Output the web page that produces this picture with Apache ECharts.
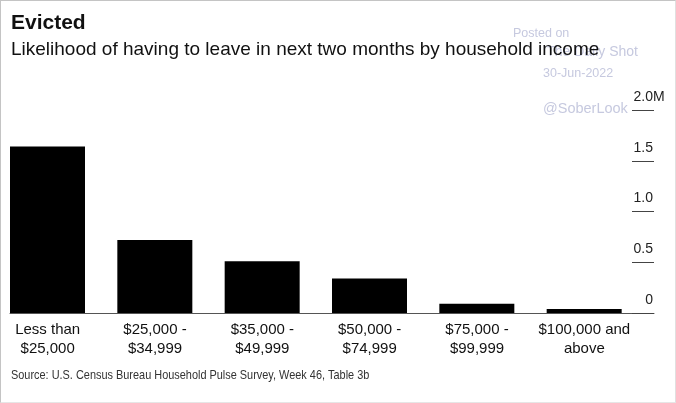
<!DOCTYPE html>
<html>
<head>
<meta charset="utf-8">
<script src="https://cdn.jsdelivr.net/npm/echarts@6/dist/echarts.min.js"></script>
<style>
  html, body { margin: 0; padding: 0; background: #fff; }
  #chart { width: 676px; height: 403px; position: absolute; left: 0; top: 0; }
  #frame { position: absolute; left: 0; top: 0; width: 676px; height: 403px; box-sizing: border-box;
           border: 1px solid #c4c4c4; border-right-color: #e0e0e0; border-bottom-color: #e6e6e6; pointer-events: none; }
</style>
</head>
<body>
<div id="chart"></div>
<div id="frame"></div>
<script>
// ---- data ----
const categories = ['Less than\n$25,000', '$25,000 -\n$34,999', '$35,000 -\n$49,999', '$50,000 -\n$74,999', '$75,000 -\n$99,999', '$100,000 and\nabove'];
const evicted = [1.64, 0.72, 0.51, 0.34, 0.092, 0.04]; // millions of households
const yMin = 0, yMax = 2.0, yStep = 0.5;
const titleText = 'Evicted';
const subtitleText = 'Likelihood of having to leave in next two months by household income';
const sourceText = 'Source: U.S. Census Bureau Household Pulse Survey, Week 46, Table 3b';

const FONT = 'Liberation Sans, Arial, Helvetica, sans-serif';
const WM = '#c6c9df';

const chart = echarts.init(document.getElementById('chart'), null, { renderer: 'canvas' });
chart.setOption({
  backgroundColor: '#ffffff',
  animation: false,
  textStyle: { fontFamily: FONT },
  title: [
    { text: titleText, left: 11, top: 13, textStyle: { fontSize: 21, fontWeight: 'bold', color: '#111', fontFamily: FONT }, padding: 0, z: 10 },
    { text: subtitleText, left: 11, top: 40, textStyle: { fontSize: 19, fontWeight: 'normal', color: '#111', fontFamily: FONT }, padding: 0, z: 10 }
  ],
  graphic: [
    { type: 'text', z: 0, zlevel: 0, left: 513, top: 27, style: { text: 'Posted on', fontSize: 12.5, fill: WM, fontFamily: FONT } },
    { type: 'text', z: 0, zlevel: 0, right: 676 - 638, top: 45, style: { text: 'The Daily Shot', fontSize: 14, fill: WM, fontFamily: FONT } },
    { type: 'text', z: 0, zlevel: 0, left: 543, top: 67, style: { text: '30-Jun-2022', fontSize: 12.5, fill: WM, fontFamily: FONT } },
    { type: 'text', z: 0, zlevel: 0, left: 543, top: 101, style: { text: '@SoberLook', fontSize: 14.5, fill: WM, fontFamily: FONT } },
    { type: 'text', z: 10, x: 11, y: 369, scaleX: 0.84, originX: 0,
      style: { text: sourceText, x: 0, y: 0, fontSize: 13, fill: '#333', fontFamily: FONT, verticalAlign: 'top', align: 'left' } }
  ],
  grid: { left: 10, right: 22, top: 110, bottom: 90, containLabel: false, outerBoundsMode: 'none' },
  xAxis: {
    type: 'category',
    data: categories,
    axisLine: { show: true, lineStyle: { color: '#555', width: 1 } },
    axisTick: { show: false },
    axisLabel: {
      interval: 0, margin: 7, fontSize: 15, lineHeight: 19, color: '#111', fontFamily: FONT,
      align: 'center', padding: [0, 32, 0, 0]
    },
    splitLine: { show: false }
  },
  yAxis: {
    type: 'value',
    position: 'right',
    min: yMin, max: yMax, interval: yStep,
    axisLine: { show: false },
    axisTick: { show: true, inside: true, length: 22, lineStyle: { color: '#444', width: 1 } },
    splitLine: { show: false },
    axisLabel: {
      inside: true, margin: -10.7, align: 'right', verticalAlign: 'bottom', padding: [0, 0, 6, 0],
      fontSize: 14, color: '#222', fontFamily: FONT,
      formatter: function (v) {
        const num = v === 0 ? '0' : v.toFixed(1);
        return '{n|' + num + '}' + (v === yMax ? '{m|M}' : '{h|M}');
      },
      rich: {
        n: { fontSize: 14, color: '#222', fontFamily: FONT },
        m: { fontSize: 14, color: '#222', fontFamily: FONT },
        h: { fontSize: 14, color: 'rgba(0,0,0,0)', fontFamily: FONT }
      }
    }
  },
  series: [
    {
      type: 'bar', data: evicted, barWidth: 75, barGap: '0%', barCategoryGap: '0%',
      itemStyle: { color: '#000' }, silent: true, z: 2
    },
    {
      type: 'bar', data: evicted.map(function () { return 0; }), barWidth: 32.33, barGap: '0%', barCategoryGap: '0%',
      itemStyle: { color: 'rgba(0,0,0,0)' }, silent: true
    }
  ]
});
</script>
</body>
</html>
